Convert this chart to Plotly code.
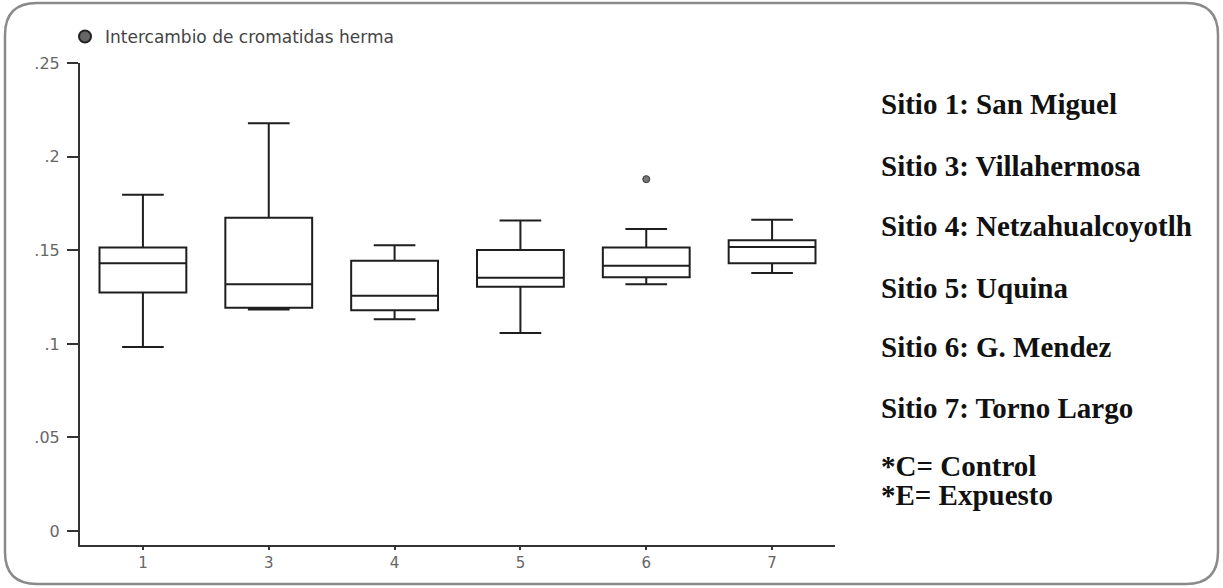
import plotly.graph_objects as go

# Sister chromatid exchange per sampling site (box summaries)
sites = ["1", "3", "4", "5", "6", "7"]
lower_whisker = [0.0984, 0.1184, 0.1132, 0.1059, 0.1319, 0.1379]
q1 = [0.1275, 0.1194, 0.1180, 0.1306, 0.1356, 0.1431]
median = [0.1431, 0.1319, 0.1258, 0.1354, 0.1418, 0.1518]
q3 = [0.1516, 0.1675, 0.1445, 0.1502, 0.1516, 0.1554]
upper_whisker = [0.1798, 0.2180, 0.1527, 0.1660, 0.1614, 0.1664]

outlier_sites = ["6"]
outlier_values = [0.1881]

y_tick_values = [0, 0.05, 0.1, 0.15, 0.2, 0.25]
y_tick_labels = ["0", ".05", ".1", ".15", ".2", ".25"]

site_notes = [
    "Sitio 1: San Miguel",
    "Sitio 3: Villahermosa",
    "Sitio 4: Netzahualcoyotlh",
    "Sitio 5: Uquina",
    "Sitio 6: G. Mendez",
    "Sitio 7: Torno Largo",
]
group_notes = ["*C= Control", "*E= Expuesto"]
series_name = "Intercambio de cromatidas herma"

W, H = 1223, 588
ML, MR, MT, MB = 80, 388, 63, 43
PW, PH = W - ML - MR, H - MT - MB

def px_x(px):
    return (px - ML) / PW

def px_y(py):
    return (H - MB - py) / PH

ink = "#1e1e1e"

fig = go.Figure()
fig.add_trace(go.Box(
    x=sites,
    lowerfence=lower_whisker,
    q1=q1,
    median=median,
    q3=q3,
    upperfence=upper_whisker,
    name=series_name,
    fillcolor="white",
    line=dict(color=ink, width=2),
    width=0.69,
    whiskerwidth=0.48,
    boxpoints=False,
    showlegend=False,
))
fig.add_trace(go.Scatter(
    x=outlier_sites,
    y=outlier_values,
    mode="markers",
    marker=dict(symbol="circle", size=7, color="#777", line=dict(color="#333", width=1)),
    showlegend=False,
    hoverinfo="skip",
))
# Legend entry with a round symbol
fig.add_trace(go.Scatter(
    x=[None], y=[None], mode="markers", name=series_name,
    marker=dict(symbol="circle", size=11, color="#666", line=dict(color="#222", width=1.5)),
    showlegend=True,
))

# Rounded frame around the whole figure
x0, x1, y0, y1, r = 5, 1218, 3, 584, 32
frame = (
    f"M {px_x(x0 + r)} {px_y(y0)} L {px_x(x1 - r)} {px_y(y0)} "
    f"Q {px_x(x1)} {px_y(y0)} {px_x(x1)} {px_y(y0 + r)} "
    f"L {px_x(x1)} {px_y(y1 - r)} "
    f"Q {px_x(x1)} {px_y(y1)} {px_x(x1 - r)} {px_y(y1)} "
    f"L {px_x(x0 + r)} {px_y(y1)} "
    f"Q {px_x(x0)} {px_y(y1)} {px_x(x0)} {px_y(y1 - r)} "
    f"L {px_x(x0)} {px_y(y0 + r)} "
    f"Q {px_x(x0)} {px_y(y0)} {px_x(x0 + r)} {px_y(y0)} Z"
)
fig.add_shape(type="path", path=frame, xref="paper", yref="paper",
              line=dict(color="#8a8a8a", width=2.5), layer="below")

# Site names on the right
note_y = [104, 166, 226, 288, 347, 408, 466, 495]
for txt, yy in zip(site_notes + group_notes, note_y):
    fig.add_annotation(x=px_x(879), y=px_y(yy), xref="paper", yref="paper",
                       text=f"<b>{txt}</b>", showarrow=False, xanchor="left", yanchor="middle",
                       font=dict(family="Liberation Serif", size=29, color="#111"))

fig.update_layout(
    width=W, height=H,
    margin=dict(l=ML, r=MR, t=MT, b=MB),
    paper_bgcolor="white",
    plot_bgcolor="white",
    font=dict(family="DejaVu Sans", size=16, color="#666"),
    legend=dict(x=px_x(65), y=px_y(19), xanchor="left", yanchor="top",
                bgcolor="rgba(0,0,0,0)", font=dict(family="DejaVu Sans", size=17, color="#444"),
                itemwidth=30, itemsizing="constant", tracegroupgap=0),
    xaxis=dict(
        type="category", categoryorder="array", categoryarray=sites,
        range=[-0.5, 5.5], showline=True, linecolor="#333", linewidth=2,
        ticks="outside", ticklen=3, tickcolor="#333", tickwidth=2,
        showgrid=False, zeroline=False,
        tickfont=dict(family="DejaVu Sans", size=15, color="#666"),
    ),
    yaxis=dict(
        range=[-0.0075, 0.2502], tickvals=y_tick_values, ticktext=y_tick_labels,
        showline=True, linecolor="#333", linewidth=2,
        ticks="outside", ticklen=11, tickcolor="#333", tickwidth=2,
        ticklabelstandoff=4,
        showgrid=False, zeroline=False,
        tickfont=dict(family="DejaVu Sans", size=16, color="#666"),
    ),
)

fig.write_html("out.html")
